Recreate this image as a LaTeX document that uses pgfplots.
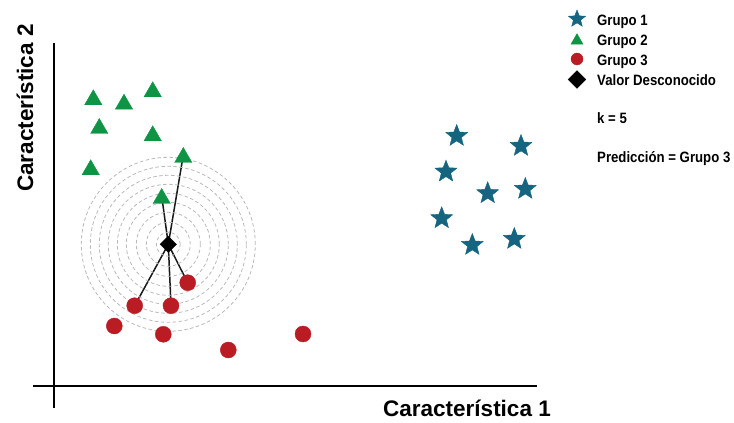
\documentclass[border=0pt]{standalone}
\usepackage{pgfplots}
\pgfplotsset{compat=1.18}
\usepackage{fontspec}
\setmainfont{Liberation Sans}
\usepackage{graphicx}
\definecolor{gteal}{RGB}{21,101,128}
\definecolor{ggreen}{RGB}{14,148,68}
\definecolor{gred}{RGB}{186,28,36}
\definecolor{ringgray}{RGB}{185,185,185}
\pgfdeclareplotmark{fstar}{%
  \pgfpathmoveto{\pgfpointpolar{90}{\pgfplotmarksize}}%
  \pgfpathlineto{\pgfpointpolar{126}{0.43\pgfplotmarksize}}%
  \pgfpathlineto{\pgfpointpolar{162}{\pgfplotmarksize}}%
  \pgfpathlineto{\pgfpointpolar{198}{0.43\pgfplotmarksize}}%
  \pgfpathlineto{\pgfpointpolar{234}{\pgfplotmarksize}}%
  \pgfpathlineto{\pgfpointpolar{270}{0.43\pgfplotmarksize}}%
  \pgfpathlineto{\pgfpointpolar{306}{\pgfplotmarksize}}%
  \pgfpathlineto{\pgfpointpolar{342}{0.43\pgfplotmarksize}}%
  \pgfpathlineto{\pgfpointpolar{18}{\pgfplotmarksize}}%
  \pgfpathlineto{\pgfpointpolar{54}{0.43\pgfplotmarksize}}%
  \pgfpathclose
  \pgfusepathqfillstroke}
\begin{document}
\begin{tikzpicture}
\begin{axis}[scale only axis, width=734pt, height=423pt,
  xmin=0, xmax=734, ymin=0, ymax=423, hide axis, clip=false]
\addplot[draw=none] coordinates {(0,0) (734,423)};
% axis lines
\addplot[black, line width=2pt] coordinates {(54,15) (54,380)};
\addplot[black, line width=2pt] coordinates {(33,37) (537,37)};
% rings around unknown value
\pgfplotsinvokeforeach{12,22,32,42,51,60,69,78,87}{
  \addplot[only marks, mark=o, mark size=#1pt,
    mark options={draw=ringgray, line width=0.8pt, dash pattern=on 3.5pt off 2.5pt}]
    coordinates {(168.3,178.7)};
}
% neighbour lines
\addplot[black!90, line width=1.5pt] coordinates {(168.3,178.7) (161.7,227)};
\addplot[black!90, line width=1.5pt] coordinates {(168.3,178.7) (183.3,268)};
\addplot[black!90, line width=1.5pt] coordinates {(168.3,178.7) (187.7,140.3)};
\addplot[black!90, line width=1.5pt] coordinates {(168.3,178.7) (134.7,117.3)};
\addplot[black!90, line width=1.5pt] coordinates {(168.3,178.7) (171,117.3)};
% Grupo 1
\addplot[only marks, mark=fstar, mark size=11.5pt, color=gteal, mark options={fill=gteal}]
  coordinates {(456.7,287) (521,277) (446,251.3) (487.7,229.7) (525.3,234) (441.7,204.7) (472.3,178) (514.3,184)};
% Grupo 2
\addplot[only marks, mark=triangle*, mark size=10pt, color=ggreen, mark options={fill=ggreen}]
  coordinates {(93.3,323.2) (124,318.8) (152.7,331.2) (99.3,294.5) (152.7,287.2) (90.7,253.2) (183.3,265.5) (161.7,224.5)};
% Grupo 3
\addplot[only marks, mark=*, mark size=8pt, color=gred, mark options={fill=gred}]
  coordinates {(187.7,140.3) (134.7,117.3) (171,117.3) (114.3,97) (163.3,88.7) (228.3,73) (303,89)};
% unknown
\addplot[only marks, mark=square*, mark size=5.8pt, color=black, mark options={rotate=45, fill=black}]
  coordinates {(168.3,178.7)};
% legend markers
\addplot[only marks, mark=fstar, mark size=9pt, color=gteal, mark options={fill=gteal}] coordinates {(577,404)};
\addplot[only marks, mark=triangle*, mark size=7pt, color=ggreen, mark options={fill=ggreen}] coordinates {(577,382.3)};
\addplot[only marks, mark=*, mark size=6pt, color=gred, mark options={fill=gred}] coordinates {(577,364)};
\addplot[only marks, mark=square*, mark size=6.3pt, color=black, mark options={rotate=45, fill=black}] coordinates {(577,343.5)};
% legend texts
\begin{scope}[every node/.style={anchor=base west, inner sep=0pt, font=\fontsize{15}{18}\selectfont\bfseries}]
\node at (axis cs:597,397) {\scalebox{0.88}[1]{Grupo 1}};
\node at (axis cs:597,377) {\scalebox{0.88}[1]{Grupo 2}};
\node at (axis cs:597,357) {\scalebox{0.88}[1]{Grupo 3}};
\node at (axis cs:597,337) {\scalebox{0.88}[1]{Valor Desconocido}};
\node at (axis cs:597,299) {\scalebox{0.88}[1]{k = 5}};
\node at (axis cs:597,260) {\scalebox{0.88}[1]{Predicción = Grupo 3}};
\end{scope}
% axis labels
\node[anchor=base west, inner sep=0pt, font=\fontsize{22.5}{26}\selectfont\bfseries] at (axis cs:383,6) {Característica 1};
\node[anchor=base west, inner sep=0pt, rotate=90, font=\fontsize{22.5}{26}\selectfont\bfseries] at (axis cs:33,231) {Característica 2};
\end{axis}
\end{tikzpicture}
\end{document}
